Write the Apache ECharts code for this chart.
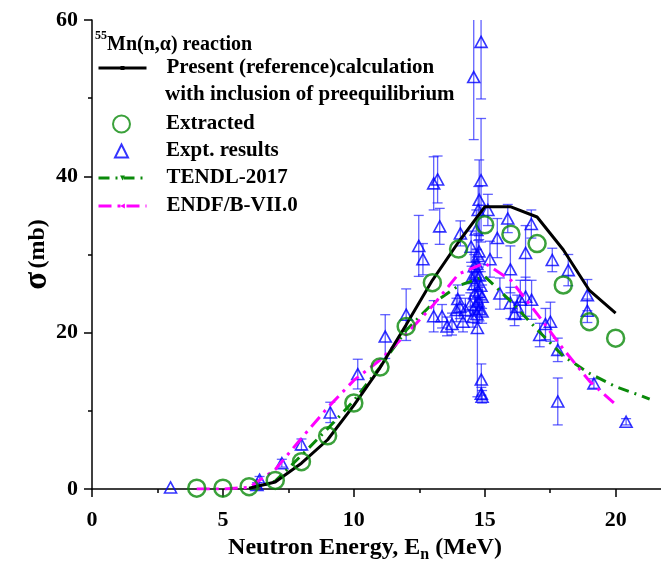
<!DOCTYPE html>
<html>
<head>
<meta charset="utf-8">
<script src="https://cdn.jsdelivr.net/npm/echarts@6/dist/echarts.min.js"></script>
<style>html,body{margin:0;padding:0;background:#fff}#c{width:661px;height:564px}</style>
</head>
<body>
<div id="c"></div>
<script>
// Present (reference) calculation with preequilibrium
const calcE = [6, 7, 8, 9, 10, 11, 12, 13, 14, 15, 16, 17, 18, 19, 20];
const calcSigma = [0.1, 0.9, 3.3, 6.3, 10.7, 15.5, 21.0, 26.7, 31.6, 36.1, 36.1, 34.8, 30.6, 25.4, 22.5];

// Extracted
const extrE = [4, 5, 6, 7, 8, 9, 10, 11, 12, 13, 14, 15, 16, 17, 18, 19, 20];
const extrSigma = [0.1, 0.1, 0.3, 1.1, 3.5, 6.8, 11.0, 15.6, 20.8, 26.4, 30.7, 33.8, 32.6, 31.4, 26.1, 21.4, 19.3];

// TENDL-2017
const tendlE = [6, 7, 8, 9, 10, 11, 12, 13, 14, 15, 16, 17, 18, 19, 20, 21, 21.3];
const tendlSigma = [0, 1.0, 4.3, 7.7, 11.3, 15.6, 20.3, 23.7, 26.0, 27.2, 24.0, 20.4, 17.0, 14.8, 13.1, 11.9, 11.5];

// ENDF/B-VII.0
const endfE = [4, 5, 6, 7, 8, 9, 10, 11, 12, 13, 14, 15, 16, 17, 18, 19, 20];
const endfSigma = [0, 0, 0.2, 2.5, 6.5, 10.4, 13.9, 16.5, 19.8, 23.4, 27.5, 28.9, 26.7, 22.4, 17.9, 13.8, 10.8];

// Experimental results
const exptE = [3.0, 6.3, 6.4, 7.25, 8.0, 9.1, 10.15, 11.2, 12.0, 12.48,
  12.64, 13.05, 13.2, 13.28, 13.05, 13.37, 13.56, 13.75, 13.92, 13.97,
  14.05, 14.07, 14.17, 14.26, 14.45, 14.48, 14.58, 14.86, 14.86, 14.79,
  14.75, 14.68, 14.78, 14.6, 14.65, 14.72, 14.62, 14.75, 14.8, 14.7,
  14.55, 14.85, 14.9, 14.87, 14.87, 14.9, 14.5, 14.6, 14.7, 14.75,
  14.8, 14.65, 14.78, 14.9, 15.12, 15.2, 15.48, 15.58, 15.88, 15.98,
  15.98, 16.14, 16.24, 16.36, 16.56, 16.56, 16.78, 16.79, 17.1, 17.32,
  17.51, 17.58, 17.79, 17.79, 18.19, 18.92, 18.92, 19.17, 20.4];
const exptSigma = [0.2, 0.5, 1.2, 3.3, 5.7, 9.8, 14.7, 19.5, 22.3, 31.1,
  29.4, 39.1, 39.6, 33.6, 22.1, 22.1, 20.8, 21.1, 22.9, 24.3,
  23.3, 32.7, 21.4, 22.9, 23.6, 31.0, 52.7, 57.2, 39.5, 37.0,
  35.7, 33.2, 30.4, 28.5, 27.5, 20.6, 25.0, 24.0, 23.0, 22.4,
  22.0, 26.0, 22.7, 14.0, 12.2, 11.8, 27.0, 26.2, 28.8, 29.8,
  27.3, 23.5, 25.2, 24.6, 35.7, 29.4, 32.1, 25.0, 34.6, 28.1,
  23.8, 22.4, 23.3, 24.2, 30.2, 24.6, 33.9, 24.2, 19.7, 21.1,
  21.4, 29.3, 17.8, 11.2, 28.0, 24.8, 22.8, 13.5, 8.6];
const exptErr = [0, 0.3, 0.4, 0.5, 0.7, 1.3, 1.9, 2.8, 3.3, 3.9,
  2.0, 3.4, 3.0, 2.3, 2.0, 1.5, 1.2, 1.4, 1.5, 1.8,
  1.5, 1.6, 1.3, 1.5, 1.5, 2.0, 8.0, 7.3, 7.9, 5.1,
  3.0, 2.5, 2.0, 1.5, 1.5, 8.8, 1.5, 1.5, 1.5, 1.2,
  1.3, 1.8, 1.5, 2.0, 0.8, 0.8, 1.5, 1.5, 1.8, 2.0,
  1.5, 1.2, 1.5, 1.5, 2.0, 2.3, 2.5, 2.0, 1.8, 3.0,
  2.0, 1.5, 1.5, 2.5, 3.5, 2.5, 1.8, 2.5, 1.5, 2.0,
  2.5, 1.5, 1.5, 3.0, 2.0, 2.0, 1.5, 0.6, 0.4];

const xTicks = [0, 5, 10, 15, 20];
const yTicks = [0, 20, 40, 60];

const zip = (a, b) => a.map((v, i) => [v, b[i]]);
const exptData = exptE.map((v, i) => [v, exptSigma[i], exptErr[i]]);

const FONT = '"Liberation Serif", "Times New Roman", serif';
const GREEN = '#0a8a0a';
const BLUE = '#0000ff';
const MAGENTA = '#ff00ff';

const chart = echarts.init(document.getElementById('c'), null, {renderer: 'canvas'});
const legendText = (padLeft) => ({fontFamily: FONT, fontWeight: 'bold', fontSize: 21, color: '#000', lineHeight: 22, padding: [0, 0, 0, padLeft]});
const legendBase = {padding: 0, selectedMode: false, lineStyle: {width: 3}};

chart.setOption({
  animation: false,
  backgroundColor: '#fff',
  grid: {left: 92, top: 20, bottom: 75, right: -7, outerBoundsMode: 'none', containLabel: false},
  legend: [
    Object.assign({data: ['Present (reference)calculation'], left: 97, top: 57, itemWidth: 48, itemHeight: 5,
      textStyle: legendText(15)}, legendBase),
    Object.assign({data: ['Extracted'], left: 112, top: 113, itemWidth: 17, itemHeight: 17,
      textStyle: legendText(31)}, legendBase),
    Object.assign({data: ['Expt. results'], left: 114, top: 140, itemWidth: 13, itemHeight: 13,
      textStyle: legendText(33)}, legendBase),
    Object.assign({data: ['TENDL-2017', 'ENDF/B-VII.0'], orient: 'vertical', left: 97, top: 167, itemGap: 6,
      itemWidth: 48, itemHeight: 6, textStyle: legendText(15)}, legendBase)
  ],
  graphic: [
    {type: 'text', left: 95, top: 30, style: {
      text: '{sup|55}{t|Mn(n,α) reaction}',
      rich: {
        sup: {fontFamily: FONT, fontWeight: 'bold', fontSize: 12, verticalAlign: 'top', lineHeight: 26},
        t: {fontFamily: FONT, fontWeight: 'bold', fontSize: 20, lineHeight: 26, padding: [4, 0, 0, 0]}
      }, fill: '#000'}},
    {type: 'text', left: 165, top: 84, style: {
      text: 'with inclusion of preequilibrium', fill: '#000',
      font: 'bold 21px "Liberation Serif", serif'}}
  ],
  xAxis: {
    type: 'value', min: 0, max: 22, interval: 5,
    name: '{a|Neutron Energy, E}{s|n}{a| (MeV)}',
    nameLocation: 'middle', nameGap: 44,
    nameTextStyle: {padding: [0, 30, 0, 0], rich: {
      a: {fontFamily: FONT, fontWeight: 'bold', fontSize: 24, color: '#000', lineHeight: 30, verticalAlign: 'middle'},
      s: {fontFamily: FONT, fontWeight: 'bold', fontSize: 16, color: '#000', lineHeight: 30, verticalAlign: 'bottom'}
    }},
    axisLine: {lineStyle: {color: '#000', width: 1.5}},
    axisTick: {show: true, inside: false, length: 8, lineStyle: {color: '#000', width: 1.5}},
    minorTick: {show: true, splitNumber: 2, length: 4, lineStyle: {color: '#000', width: 1.5}},
    axisLabel: {fontFamily: FONT, fontWeight: 'bold', fontSize: 22, color: '#000', margin: 20,
      formatter: v => (xTicks.indexOf(v) >= 0 ? String(v) : '')},
    splitLine: {show: false}
  },
  yAxis: {
    type: 'value', min: 0, max: 60, interval: 20,
    name: '{s|σ} {m|(mb)}',
    nameLocation: 'middle', nameGap: 38, nameMoveOverlap: false,
    nameTextStyle: {rich: {
      s: {fontFamily: FONT, fontWeight: 'bold', fontSize: 33, color: '#000'},
      m: {fontFamily: FONT, fontWeight: 'bold', fontSize: 24, color: '#000'}
    }},
    axisLine: {show: true, lineStyle: {color: '#000', width: 1.5}},
    axisTick: {show: true, inside: false, length: 8, lineStyle: {color: '#000', width: 1.5}},
    minorTick: {show: true, splitNumber: 2, length: 4, lineStyle: {color: '#000', width: 1.5}},
    axisLabel: {fontFamily: FONT, fontWeight: 'bold', fontSize: 22, color: '#000', margin: 14,
      formatter: v => (yTicks.indexOf(v) >= 0 ? String(v) : '')},
    splitLine: {show: false}
  },
  series: [
    {
      name: 'errbars', type: 'custom', clip: true, silent: true, z: 2,
      data: exptData,
      encode: {x: 0, y: 1},
      renderItem: function (params, api) {
        const x = api.value(0), y = api.value(1), e = api.value(2);
        if (!e) return null;
        const lo = api.coord([x, y - e]);
        const hi = api.coord([x, y + e]);
        const w = 5;
        const st = {stroke: 'rgba(30,30,255,0.7)', lineWidth: 1.3};
        return {type: 'group', children: [
          {type: 'line', shape: {x1: lo[0], y1: lo[1], x2: hi[0], y2: hi[1]}, style: st},
          {type: 'line', shape: {x1: lo[0] - w, y1: lo[1], x2: lo[0] + w, y2: lo[1]}, style: st},
          {type: 'line', shape: {x1: hi[0] - w, y1: hi[1], x2: hi[0] + w, y2: hi[1]}, style: st}
        ]};
      }
    },
    {
      name: 'Expt. results', type: 'scatter', z: 3,
      data: exptData.map(d => [d[0], d[1]]),
      symbol: 'triangle', symbolSize: [12, 11],
      itemStyle: {color: 'rgba(255,255,255,0)', borderColor: BLUE, borderWidth: 1.6}
    },
    {
      name: 'TENDL-2017', type: 'line', z: 4,
      data: zip(tendlE, tendlSigma),
      showSymbol: false, symbol: 'triangle', symbolRotate: 180, symbolSize: 5,
      itemStyle: {color: GREEN},
      lineStyle: {color: GREEN, width: 3, type: [11, 6, 2, 6]}
    },
    {
      name: 'ENDF/B-VII.0', type: 'line', z: 4,
      data: zip(endfE, endfSigma),
      showSymbol: false, symbol: 'triangle', symbolRotate: 90, symbolSize: 5,
      itemStyle: {color: MAGENTA},
      lineStyle: {color: MAGENTA, width: 3, type: [13, 6, 3, 6]}
    },
    {
      name: 'Present (reference)calculation', type: 'line', z: 5,
      data: zip(calcE, calcSigma),
      showSymbol: false, symbol: 'rect', symbolSize: 4,
      itemStyle: {color: '#000'},
      lineStyle: {color: '#000', width: 3}
    },
    {
      name: 'Extracted', type: 'scatter', z: 6,
      data: zip(extrE, extrSigma),
      symbol: 'circle', symbolSize: 17,
      itemStyle: {color: 'rgba(255,255,255,0)', borderColor: GREEN, borderWidth: 2.5}
    }
  ]
});
</script>
</body>
</html>
